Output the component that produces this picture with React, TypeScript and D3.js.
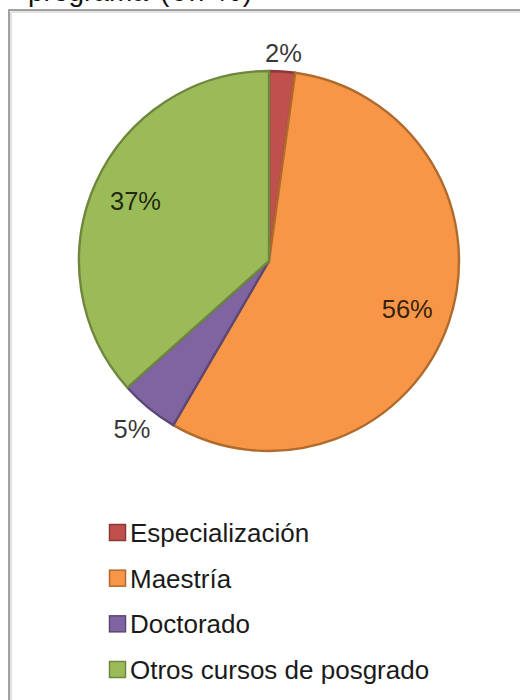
import React from "react";
import * as d3 from "d3";

const categories = ["Especialización", "Maestría", "Doctorado", "Otros cursos de posgrado"];
const values = [2.2, 56.2, 5.0, 36.6];
const fills = ["#C0504D", "#F79646", "#8064A2", "#9BBB59"];
const strokes = ["#8C3836", "#B06A2C", "#5C4776", "#6E873C"];

const W = 520;
const H = 700;
const cx = 269;
const cy = 261;
const R = 190;
const FONT = "'Liberation Sans', Arial, sans-serif";

export default function App() {
  const total = d3.sum(values);
  const pie = d3.pie<number>().sort(null).value((d) => d)(values);
  const arc = d3.arc<d3.PieArcDatum<number>>().innerRadius(0).outerRadius(R);

  const labelFont = 25.5;
  const labels = pie.map((p, i) => {
    const pct = Math.round((values[i] / total) * 100);
    const text = `${pct}%`;
    const mid = (p.startAngle + p.endAngle) / 2;
    const s = Math.sin(mid);
    const c = Math.cos(mid);
    let dist: number;
    if (pct < 10) {
      const w = text.length === 2 ? 37 : 50;
      const h = 18;
      dist = R + 8 + Math.abs(s) * (w / 2) + Math.abs(c) * (h / 2);
    } else {
      dist = R * 0.77;
    }
    const la = d3.arc<any>().innerRadius(dist).outerRadius(dist);
    const [x, y] = la.centroid(p as any);
    return { x, y, text };
  });

  const legendY = d3.scalePoint<string>().domain(categories).range([533, 670]);
  const sq = 17;

  return (
    <svg
      width={W}
      height={H}
      viewBox={`0 0 ${W} ${H}`}
      style={{ position: "absolute", left: 0, top: 0, background: "#fff" }}
    >
      <rect x={0} y={0} width={W} height={H} fill="#fff" />
      {/* caption above the frame, cut off by the picture's top edge as in the reference */}
      <text x={28} y={1} fontFamily={FONT} fontSize={28} fill="#111">
        programa
      </text>
      <text x={160} y={1} fontFamily={FONT} fontSize={28} fill="#111" textLength={92} lengthAdjust="spacing">
        (en %)
      </text>
      {/* frame */}
      <rect x={9} y={10} width={W + 40} height={H + 40} fill="#fff" stroke="#8a8a8a" strokeWidth={1.6} />
      <line x1={11} y1={12} x2={11} y2={H} stroke="#e2e2e2" strokeWidth={2} />
      <line x1={11} y1={12} x2={W} y2={12} stroke="#e2e2e2" strokeWidth={2} />

      <g transform={`translate(${cx},${cy})`}>
        {pie.map((p, i) => (
          <path
            key={categories[i]}
            d={arc(p) || ""}
            fill={fills[i]}
            stroke={strokes[i]}
            strokeWidth={2.4}
            strokeLinejoin="round"
          />
        ))}
        {labels.map((l, i) => (
          <text
            key={i}
            x={l.x}
            y={l.y}
            textAnchor="middle"
            dominantBaseline="central"
            fontFamily={FONT}
            fontSize={labelFont}
            fill="#000"
            fillOpacity={0.8}
          >
            {l.text}
          </text>
        ))}
      </g>

      {categories.map((c, i) => {
        const y = legendY(c) as number;
        return (
          <g key={c}>
            <rect
              x={109.5}
              y={y - sq / 2}
              width={sq - 1}
              height={sq - 1}
              fill={fills[i]}
              stroke={strokes[i]}
              strokeWidth={1.5}
            />
            <text
              x={130}
              y={y + 9}
              fontFamily={FONT}
              fontSize={26}
              fill="#1a1a1a"
            >
              {c}
            </text>
          </g>
        );
      })}
    </svg>
  );
}
